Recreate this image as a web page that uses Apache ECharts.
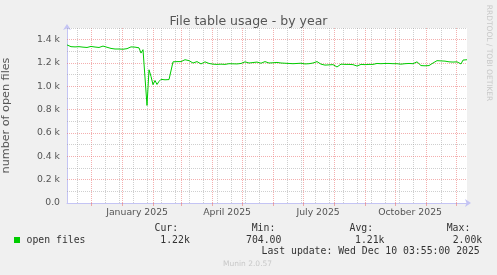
<!DOCTYPE html>
<html><head><meta charset="utf-8">
<script src="https://cdn.jsdelivr.net/npm/echarts@6/dist/echarts.min.js"></script>
<style>html,body{margin:0;padding:0;background:#f0f0f0}#c{width:497px;height:275px}</style>
</head><body><div id="c"></div>
<script>
const chartTitle = 'File table usage - by year';
const yAxisName = 'number of open files';
const seriesName = 'open files';
const sideText = 'RRDTOOL / TOBI OETIKER';
const footerText = 'Munin 2.0.57';
const lastUpdate = 'Last update: Wed Dec 10 03:55:00 2025';
const statHeads = ['Cur:', 'Min:', 'Avg:', 'Max:'];
const statValues = ['1.22k', '704.00', '1.21k', '2.00k'];

// time axis: days since origin, one sample every 2 days
const originUTC = Date.UTC(2024, 10, 6, 10, 0);
const spanDays = 400;
const stepDays = 2;
const values = [
  1355,1348,1340,1336,1338,1334,1340,1346,1336,1338,1333,1338,1342,1335,1337,1340,1333,1336,1345,1338,1335,1330,
  1325,1322,1320,1318,1320,1322,1318,1320,1323,1330,1338,1342,1336,1344,1330,
  1285,1314,1312,836,1142,1085,1014,1050,1016,1042,1060,1068,1056,1060,1058,1062,
  1210,1214,1212,1216,1212,1218,1228,1212,1220,1214,1200,1208,1212,1204,1192,
  1190,1210,1200,1196,1192,1190,1193,1188,1192,1190,1192,1188,1190,1194,1190,1193,1188,1192,1190,1196,1198,
  1210,1204,1200,1212,1204,1202,1208,1200,1198,1206,1212,1204,1200,1208,1202,1198,1205,1210,1200,1203,1198,1206,
  1196,1198,1194,1200,1196,1190,1198,1196,1192,1198,1194,1196,1200,1195,1212,1196,1190,1180,1182,1178,1184,1180,
  1186,1182,1166,1182,1190,1184,1188,1182,1188,1180,1186,1184,1174,1182,1188,1190,1186,1192,1188,1194,1188,
  1192,1196,1190,1194,1190,1196,1192,1196,1188,1194,1198,1194,1196,1190,1198,1194,1200,1196,1198,1194,1200,
  1210,1196,1178,1174,1176,1172,1178,1186,1200,1210,1220,1214,1218,1210,1216,1212,1210,1216,1208,1214,1210,1220,1192,1225,1212,1228
];
const yTickValues = [0, 200, 400, 600, 800, 1000, 1200, 1400];
const xTickLabels = ['January 2025', 'April 2025', 'July 2025', 'October 2025'];
const xTickMonths = [[2025, 0], [2025, 3], [2025, 6], [2025, 9]];

const DAY = 86400000;
const dayOf = (y, m, d, h) => (Date.UTC(y, m, d, h || 0) - originUTC) / DAY;

const monthStarts = [];
for (let k = 0; k < 13; k++) monthStarts.push(dayOf(2024, 11 + k, 1));
const biweekly = [];
for (let d = dayOf(2024, 10, 17); d <= spanDays; d += 14) {
  if (!monthStarts.some(m => Math.abs(m - d) < 1.5)) biweekly.push(d);
}
const labelPos = xTickMonths.map(([y, m]) => dayOf(y, m, 15, 12));

const RED = 'rgba(235,110,110,0.55)';
const GRAY = 'rgba(160,160,160,0.5)';
const AXIS = '#c4c4f4';
const dot = [1, 1];

const ml = [];
biweekly.forEach(d => ml.push({ xAxis: d, lineStyle: { color: GRAY, type: dot, width: 1 } }));
monthStarts.forEach(d => ml.push({ xAxis: d, lineStyle: { color: RED, type: dot, width: 1 } }));
for (let v = 100; v <= 1500; v += 200) ml.push({ yAxis: v, lineStyle: { color: GRAY, type: dot, width: 1 } });
yTickValues.filter(v => v > 0).forEach(v => ml.push({ yAxis: v, lineStyle: { color: RED, type: dot, width: 1 } }));

const data = values.map((v, i) => [i * stepDays, v]);
const mono = '"DejaVu Sans Mono", monospace';
const sans = '"DejaVu Sans", sans-serif';

const graphic = [
  { type: 'rect', shape: { x: 14, y: 237, width: 6, height: 6 }, style: { fill: '#00cc00' } },
  { type: 'text', x: 26.5, y: 240, style: { text: seriesName, font: '9.8px ' + mono, fill: '#333', verticalAlign: 'middle' } },
  { type: 'text', x: 261.5, y: 251.5, style: { text: lastUpdate, font: '9.8px ' + mono, fill: '#333', verticalAlign: 'middle' } },
  { type: 'text', x: 223, y: 264.5, style: { text: footerText, font: '7.5px ' + sans, fill: '#c8c8c8', verticalAlign: 'middle' } },
  { type: 'text', x: 488.5, y: 53, rotation: -Math.PI / 2, style: { text: sideText, font: '7.5px ' + sans, fill: '#c8c8c8', align: 'center', verticalAlign: 'middle' } }
];
const headX = [154.5, 251.7, 349.5, 446.7];
const valX = [160.3, 246, 355, 452.7];
statHeads.forEach((t, i) => graphic.push({ type: 'text', x: headX[i], y: 228, style: { text: t, font: '9.8px ' + mono, fill: '#333', verticalAlign: 'middle' } }));
statValues.forEach((t, i) => graphic.push({ type: 'text', x: valX[i], y: 240, style: { text: t, font: '9.8px ' + mono, fill: '#333', verticalAlign: 'middle' } }));

const chart = echarts.init(document.getElementById('c'), null, { renderer: 'canvas' });
chart.setOption({
  animation: false,
  backgroundColor: '#f0f0f0',
  title: { text: chartTitle, left: 'center', top: 10, textStyle: { fontSize: 12.5, fontWeight: 'normal', color: '#555', fontFamily: sans } },
  grid: { left: 67, top: 28, width: 400, height: 175, show: true, backgroundColor: '#ffffff', borderWidth: 0, containLabel: false, outerBoundsMode: 'none' },
  xAxis: {
    type: 'value', min: 0, max: spanDays,
    axisLine: { show: true, lineStyle: { color: AXIS, width: 1 }, symbol: ['none', 'arrow'], symbolSize: [6, 6], symbolOffset: [0, 4] },
    axisTick: { show: true, customValues: monthStarts, length: 3, lineStyle: { color: RED } },
    axisLabel: {
      customValues: labelPos, margin: 5, color: '#555', fontSize: 9.3, fontFamily: sans,
      formatter: v => { const i = labelPos.findIndex(p => Math.abs(p - v) < 0.01); return i >= 0 ? xTickLabels[i] : ''; }
    },
    splitLine: { show: false }
  },
  yAxis: {
    type: 'value', min: 0, max: 1500, interval: 100,
    name: yAxisName, nameLocation: 'middle', nameGap: 55, nameRotate: 90,
    nameTextStyle: { fontSize: 11.2, color: '#555', fontFamily: sans },
    axisLine: { show: true, lineStyle: { color: AXIS, width: 1 }, symbol: ['none', 'arrow'], symbolSize: [6, 6], symbolOffset: [0, 4] },
    axisTick: { show: false },
    axisLabel: {
      margin: 7, color: '#555', fontSize: 9.3, fontFamily: sans,
      formatter: v => yTickValues.includes(v) ? (v === 0 ? '0.0' : (v / 1000).toFixed(1) + ' k') : ''
    },
    splitLine: { show: false }
  },
  graphic: graphic,
  series: [
    {
      type: 'line', data: data, z: 1, showSymbol: false, silent: true,
      lineStyle: { opacity: 0 },
      markLine: { silent: true, symbol: ['none', 'none'], label: { show: false }, animation: false, data: ml }
    },
    {
      name: seriesName, type: 'line', data: data, z: 10, showSymbol: false, silent: true,
      lineStyle: { color: '#00cc00', width: 1 }
    }
  ]
});
</script>
</body></html>
